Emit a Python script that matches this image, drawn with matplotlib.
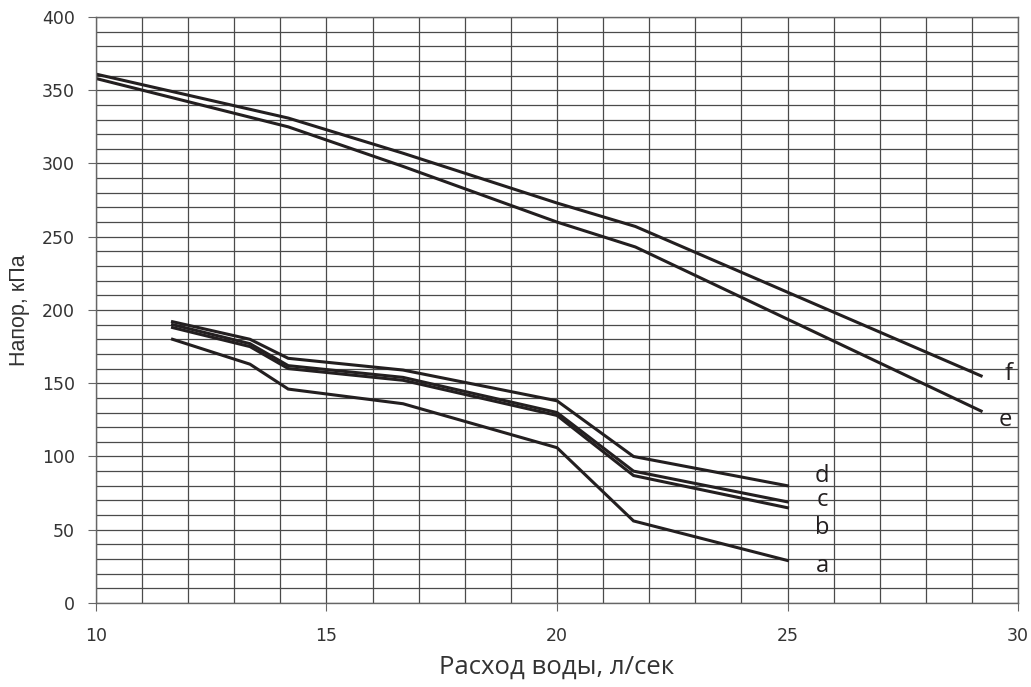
import matplotlib
matplotlib.use("Agg")
import matplotlib.pyplot as plt
from matplotlib.ticker import MultipleLocator

# Flow, l/s
x_low = [11.66, 13.34, 14.17, 16.66, 20.0, 21.66, 25.0]
a_vals = [180, 163, 146, 136, 106, 56, 29]
b_vals = [188, 175, 160, 152, 128, 87, 65]
c_vals = [190, 177, 162, 154, 130, 90, 69]
d_vals = [192, 180, 167, 159, 138, 100, 80]

x_high = [10.0, 14.17, 16.66, 20.0, 21.7, 29.2]
e_vals = [358, 325, 298, 260, 243, 131]
f_vals = [361, 331, 307, 273, 257, 155]

labels = ["a", "b", "c", "d", "e", "f"]
label_x = [25.75, 25.75, 25.75, 25.75, 29.72, 29.8]
label_y = [25, 51, 70, 87, 125, 156]

x_ticks = [10, 15, 20, 25, 30]
y_ticks = [0, 50, 100, 150, 200, 250, 300, 350, 400]

line_color = "#231f20"

fig = plt.figure(figsize=(10.31, 6.87), dpi=100)
ax = fig.add_axes([0.0931, 0.1223, 0.8943, 0.853])

ax.set_xlim(10, 30)
ax.set_ylim(0, 400)
ax.set_xticks(x_ticks)
ax.set_yticks(y_ticks)
ax.xaxis.set_minor_locator(MultipleLocator(1))
ax.yaxis.set_minor_locator(MultipleLocator(10))
ax.grid(which="both", color="#4a4a4a", linewidth=0.9)
ax.set_axisbelow(True)
for s in ax.spines.values():
    s.set_color("#666666")
    s.set_linewidth(1.0)

ax.tick_params(which="major", direction="out", length=6, color="#666666",
               labelsize=12.5, labelcolor="#333333")
ax.tick_params(axis="x", which="major", pad=11)
ax.tick_params(axis="y", which="major", pad=9)
ax.tick_params(which="minor", length=0)
for lab in ax.get_xticklabels() + ax.get_yticklabels():
    lab.set_family("DejaVu Sans")

for vals in (a_vals, b_vals, c_vals, d_vals):
    ax.plot(x_low, vals, color=line_color, linewidth=2.2, solid_joinstyle="miter")
for vals in (e_vals, f_vals):
    ax.plot(x_high, vals, color=line_color, linewidth=2.2, solid_joinstyle="miter")

for t, lx, ly in zip(labels, label_x, label_y):
    ax.text(lx, ly, t, fontsize=17, color=line_color, family="Open Sans",
            ha="center", va="center")

ax.set_xlabel("Расход воды, л/сек", fontsize=18.5, family="Open Sans",
              color="#333333", labelpad=7)
ax.set_ylabel("Напор, кПа", fontsize=15.5, family="Liberation Sans",
              color="#333333", labelpad=9)

fig.savefig("out.png", dpi=100)
